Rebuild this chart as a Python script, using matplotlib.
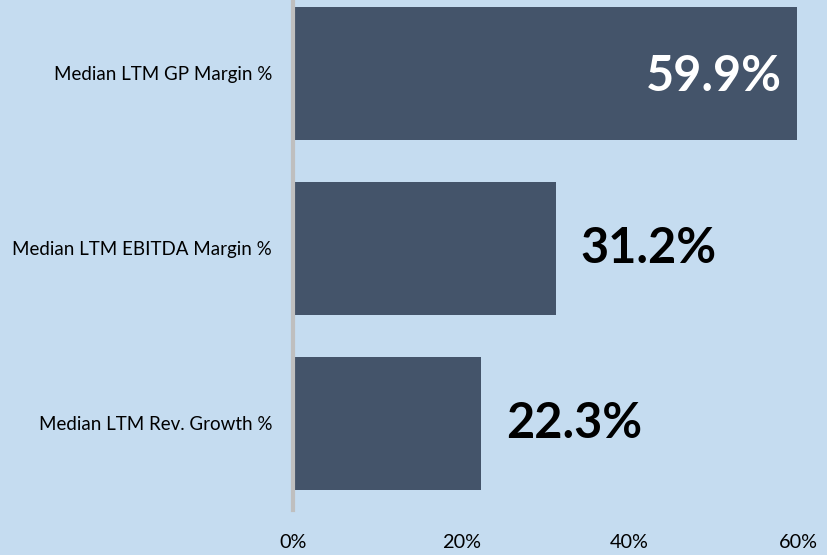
import matplotlib.pyplot as plt

categories = ['Median LTM GP Margin %', 'Median LTM EBITDA Margin %', 'Median LTM Rev. Growth %']
values = [59.9, 31.2, 22.3]
xticks = [0, 20, 40, 60]

bg = '#C5DCF0'
bar_color = '#44546A'

plt.rcParams['font.family'] = ['Lato', 'DejaVu Sans']

fig = plt.figure(figsize=(8.27, 5.55), dpi=100, facecolor=bg)
ax = fig.add_axes([293 / 827, 45 / 555, 505 / 827, 510 / 555])
ax.set_facecolor(bg)

pos = list(range(len(categories)))
ax.barh(pos, values, height=0.76, color=bar_color, zorder=2)
ax.set_ylim(2.497, -0.42)
ax.set_xlim(0, 60)

ax.set_yticks(pos)
ax.set_yticklabels(categories, fontsize=13.5)
ax.set_xticks(xticks)
ax.set_xticklabels([f'{t}%' for t in xticks], fontsize=14.3)
ax.tick_params(axis='y', length=0, pad=15)
ax.tick_params(axis='x', length=0, pad=17)

for s in ['top', 'right', 'bottom']:
    ax.spines[s].set_visible(False)
ax.spines['left'].set_color('#BFBFBF')
ax.spines['left'].set_linewidth(3)
ax.spines['left'].set_zorder(3)

for i, v in enumerate(values):
    if v > 50:
        ax.annotate(f'{v:.1f}%', (v, i), xytext=(-11, -2), textcoords='offset points',
                    ha='right', va='center', fontsize=35, fontweight='bold', color='white')
    else:
        ax.annotate(f'{v:.1f}%', (v, i), xytext=(18, 0), textcoords='offset points',
                    ha='left', va='center', fontsize=35, fontweight='bold', color='black')

fig.savefig('out.png', dpi=100, facecolor=bg)
